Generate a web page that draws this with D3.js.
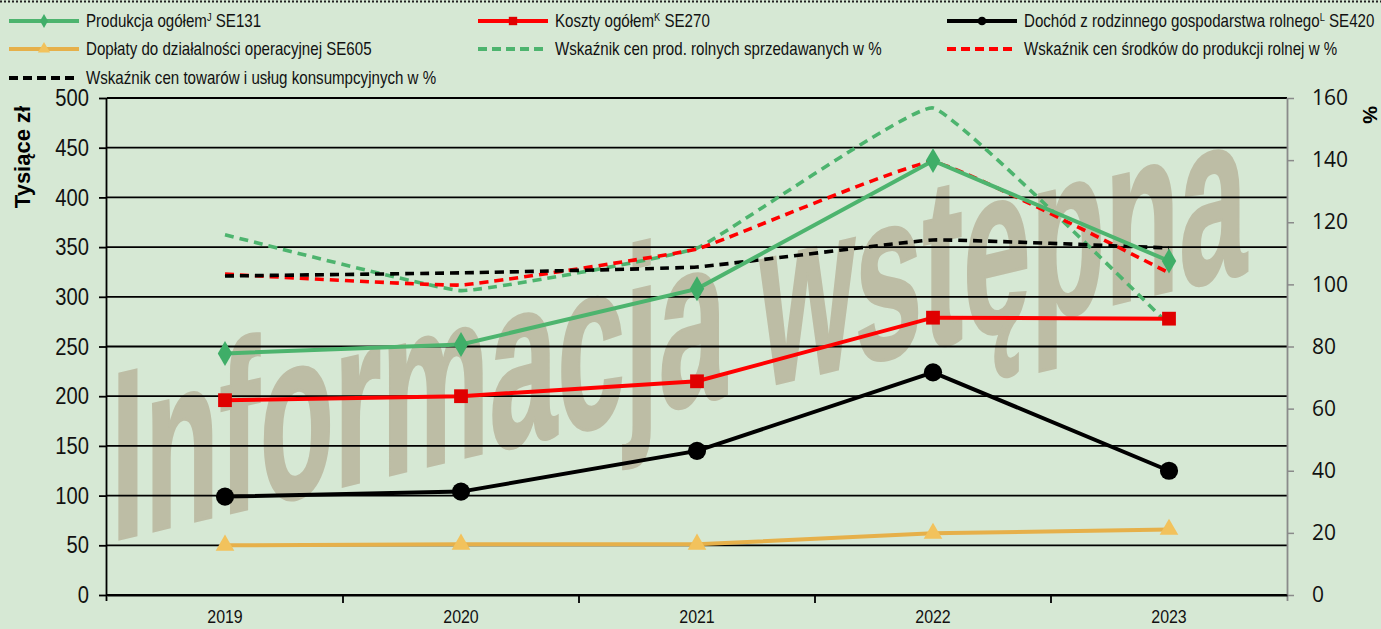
<!DOCTYPE html>
<html>
<head>
<meta charset="utf-8">
<script src="https://cdn.jsdelivr.net/npm/d3@7"></script>
<style>
  body { margin: 0; background: #d6e8d4; }
  svg { display: block; }
  .narrow { font-family: "Liberation Sans Narrow", "Arial Narrow", "Liberation Sans", sans-serif; }
</style>
</head>
<body>
<svg width="1381" height="629"></svg>
<script>
const years = ['2019', '2020', '2021', '2022', '2023'];
const produkcja = [243, 252, 308, 437, 336];
const koszty = [196, 200, 215, 279, 278];
const dochod = [99, 104, 145, 224, 125];
const doplaty = [50, 51, 51, 62, 66];
const wskProd = [116, 98, 111.7, 156.8, 87];
const wskSrodkow = [103.3, 99.8, 111.4, 139.4, 103.7];
const wskTowarow = [102.7, 103.7, 105.6, 114.3, 111.7];
const leftTicks = [0, 50, 100, 150, 200, 250, 300, 350, 400, 450, 500];
const rightTicks = [0, 20, 40, 60, 80, 100, 120, 140, 160];

const svg = d3.select('svg');
const margin = { top: 98, left: 107, right: 94, bottom: 34 };
const width = +svg.attr('width') - margin.left - margin.right;
const height = +svg.attr('height') - margin.top - margin.bottom;

const green = '#4db46e', red = '#ff0000', gold = '#e6b04a';
const sx = 0.84; // squeeze, no narrow font installed

svg.append('rect').attr('width', 1381).attr('height', 629).attr('fill', '#d6e8d4');
svg.append('line').attr('x1', 0).attr('x2', 1381).attr('y1', 1.5).attr('y2', 1.5)
    .attr('stroke', '#222').attr('stroke-width', 2).attr('stroke-dasharray', '2,2');

const x = d3.scaleBand().domain(years).range([0, width]);
const yL = d3.scaleLinear().domain([0, 500]).range([height, 0]);
const yR = d3.scaleLinear().domain([0, 160]).range([height, 0]);
const cx = d => x(d) + x.bandwidth() / 2;

const g = svg.append('g').attr('transform', `translate(${margin.left}, ${margin.top})`);

// watermark
g.append('text')
    .attr('class', 'narrow')
    .attr('transform', `translate(4, ${height - 54}) skewY(-13.3)`)
    .attr('font-size', 240)
    .attr('font-weight', 'bold')
    .attr('fill', '#bdbda5')
    .attr('stroke', '#bdbda5').attr('stroke-width', 3)
    .attr('textLength', 1136)
    .attr('lengthAdjust', 'spacingAndGlyphs')
    .text('Informacja wstępna');

// grid
g.selectAll('.grid').data(leftTicks).enter().append('line')
    .attr('x1', 0).attr('x2', width)
    .attr('y1', d => yL(d)).attr('y2', d => yL(d))
    .attr('stroke', '#000').attr('stroke-width', 1.8);

// left axis
const yAxisL = d3.axisLeft(yL).tickValues(leftTicks).tickSize(8);
g.append('g').call(yAxisL).call(a => {
    a.select('.domain').attr('stroke-width', 1.8).attr('d', `M-0.5,${height + 6}V0`);
    a.selectAll('.tick line').attr('stroke-width', 1.8);
    a.selectAll('.tick text').attr('class', 'narrow').attr('font-size', 24).attr('fill', '#111')
        .attr('x', 0).attr('transform', `translate(-18, 0) scale(${sx}, 1)`);
});

// right axis
const yAxisR = d3.axisRight(yR).tickValues(rightTicks).tickSize(7).tickPadding(18);
g.append('g').attr('transform', `translate(${width}, 0)`).call(yAxisR).call(a => {
    a.select('.domain').attr('stroke', '#8a8a8a').attr('stroke-width', 1.8).attr('d', `M0.5,${height + 6}V0`);
    a.selectAll('.tick line').attr('stroke', '#8a8a8a').attr('stroke-width', 1.5);
    a.selectAll('.tick text').attr('font-family', '"Open Sans", sans-serif').attr('font-size', 21).attr('fill', '#111');
});

// x axis
g.append('g').attr('transform', `translate(0, ${height})`)
    .call(d3.axisBottom(x).tickSize(0).tickPadding(15)).call(a => {
        a.select('.domain').attr('stroke-width', 1.8);
        a.selectAll('.tick text').attr('class', 'narrow').attr('font-size', 19).attr('fill', '#111')
            .attr('transform', `scale(${sx}, 1)`);
    });
g.append('g').selectAll('line').data(years.slice(1)).enter().append('line')
    .attr('x1', d => x(d)).attr('x2', d => x(d))
    .attr('y1', height).attr('y2', height + 8)
    .attr('stroke', '#000').attr('stroke-width', 1.8);

// axis titles
svg.append('text')
    .attr('transform', 'translate(30, 157) rotate(-90)')
    .attr('text-anchor', 'middle')
    .attr('font-family', '"Liberation Sans", Arial, sans-serif')
    .attr('font-weight', 'bold').attr('font-size', 22)
    .text('Tysiące zł');
svg.append('text')
    .attr('transform', 'translate(1363, 115) rotate(90)')
    .attr('text-anchor', 'middle')
    .attr('font-family', '"Liberation Sans", Arial, sans-serif')
    .attr('font-weight', 'bold').attr('font-size', 20)
    .text('%');

// dashed smoothed index lines
const dashed = [
    { values: wskProd, color: green },
    { values: wskSrodkow, color: red },
    { values: wskTowarow, color: '#000' }
];
const smooth = d3.line().curve(d3.curveCardinal.tension(0.72))
    .x((d, i) => cx(years[i])).y(d => yR(d));
dashed.forEach(s => {
    g.append('path').attr('d', smooth(s.values))
        .attr('fill', 'none').attr('stroke', s.color)
        .attr('stroke-width', 3.6).attr('stroke-dasharray', '9,6');
});

// solid lines with markers
const straight = d3.line().x((d, i) => cx(years[i])).y(d => yL(d));
const solid = [
    { values: doplaty, color: gold, marker: d3.symbolTriangle, size: 150, fill: '#f2c25c' },
    { values: dochod, color: '#000', marker: d3.symbolCircle, size: 260, fill: '#000' },
    { values: koszty, color: red, marker: d3.symbolSquare, size: 190, fill: '#e00000' },
    { values: produkcja, color: green, marker: d3.symbolDiamond, size: 180, fill: '#3fae68' }
];
solid.forEach(s => {
    g.append('path').attr('d', straight(s.values))
        .attr('fill', 'none').attr('stroke', s.color).attr('stroke-width', 4);
    g.selectAll(null).data(s.values).enter().append('path')
        .attr('transform', (d, i) => `translate(${cx(years[i])}, ${yL(d)})`)
        .attr('d', d3.symbol().type(s.marker).size(s.size))
        .attr('fill', s.fill);
});

// legend
const legendItems = [
    { label: 'Produkcja ogółem', sup: 'J', tail: ' SE131', color: green, marker: d3.symbolDiamond, size: 55, fill: '#3fae68', col: 0, row: 0 },
    { label: 'Koszty ogółem', sup: 'K', tail: ' SE270', color: red, marker: d3.symbolSquare, size: 70, fill: '#e00000', col: 1, row: 0 },
    { label: 'Dochód z rodzinnego gospodarstwa rolnego', sup: 'L', tail: ' SE420', color: '#000', marker: d3.symbolCircle, size: 60, fill: '#000', col: 2, row: 0 },
    { label: 'Dopłaty do działalności operacyjnej SE605', color: gold, marker: d3.symbolTriangle, size: 65, fill: '#f2c25c', col: 0, row: 1 },
    { label: 'Wskaźnik cen prod. rolnych sprzedawanych w %', color: green, dash: true, col: 1, row: 1 },
    { label: 'Wskaźnik cen środków do produkcji rolnej w %', color: red, dash: true, col: 2, row: 1 },
    { label: 'Wskaźnik cen towarów i usług konsumpcyjnych w %', color: '#000', dash: true, col: 0, row: 2 }
];
const colX = [9, 478, 947];
const rowY = [21, 49, 78];
const legend = svg.append('g');
legendItems.forEach(d => {
    const lg = legend.append('g').attr('transform', `translate(${colX[d.col]}, ${rowY[d.row]})`);
    lg.append('line').attr('x1', 0).attr('x2', 70).attr('y1', 0).attr('y2', 0)
        .attr('stroke', d.color).attr('stroke-width', 4)
        .attr('stroke-dasharray', d.dash ? '9,5' : null);
    if (d.marker) {
        lg.append('path').attr('transform', 'translate(35, 0)')
            .attr('d', d3.symbol().type(d.marker).size(d.size)).attr('fill', d.fill);
    }
    const t = lg.append('text').attr('class', 'narrow')
        .attr('transform', `translate(77, 6) scale(${sx}, 1)`)
        .attr('font-size', 18).attr('fill', '#111').text(d.label);
    if (d.sup) {
        t.append('tspan').attr('font-size', 11).attr('dy', -6).text(d.sup);
        t.append('tspan').attr('dy', 6).text(d.tail);
    }
});
</script>
</body>
</html>
